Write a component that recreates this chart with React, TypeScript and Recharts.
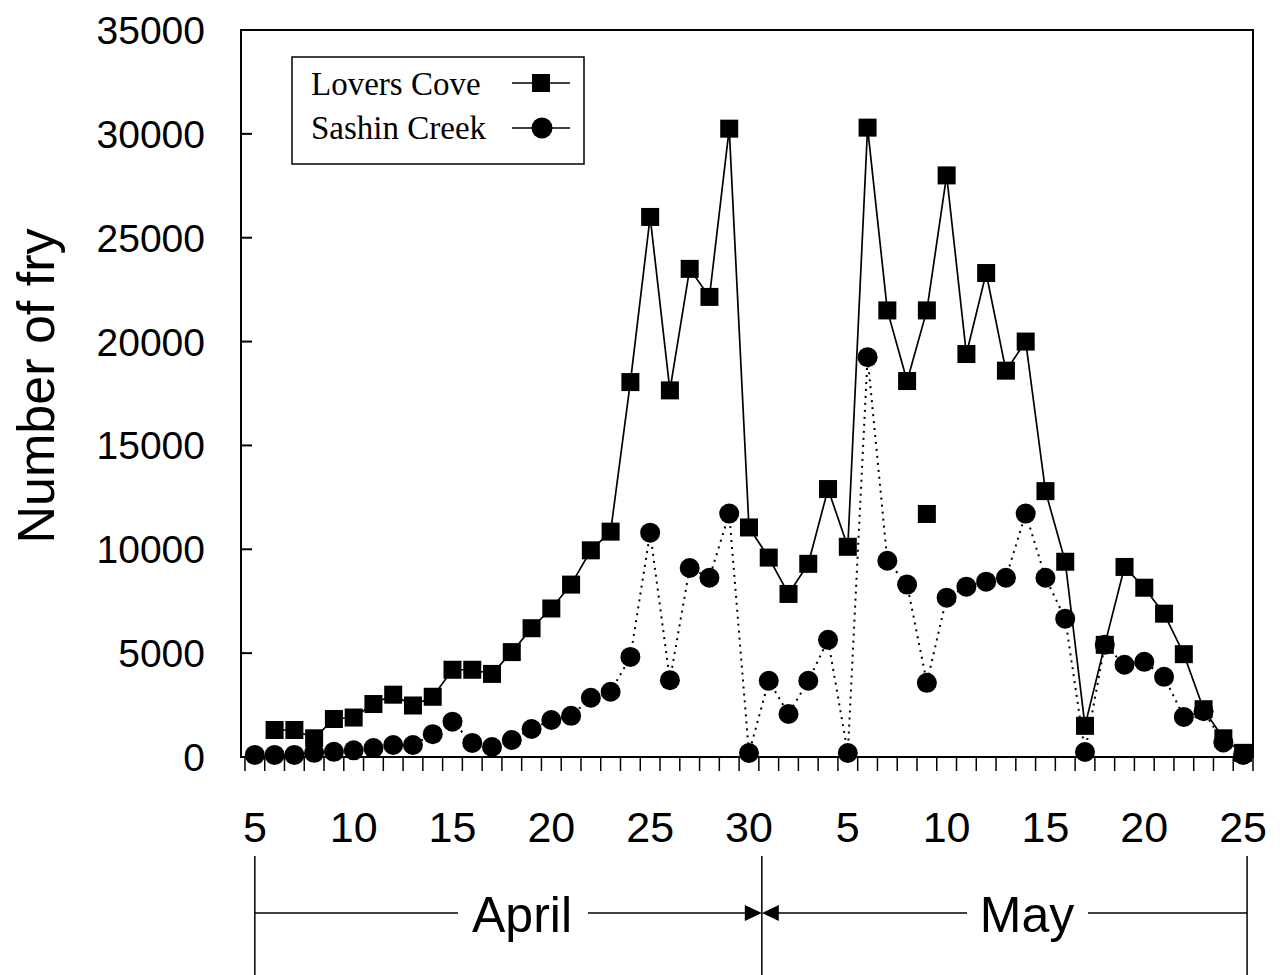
import { Line, LineChart, ReferenceArea, XAxis, YAxis } from 'recharts'

// one entry per day, 5 April .. 25 May
const dates = [
  'Apr 5', 'Apr 6', 'Apr 7', 'Apr 8', 'Apr 9', 'Apr 10', 'Apr 11', 'Apr 12', 'Apr 13', 'Apr 14',
  'Apr 15', 'Apr 16', 'Apr 17', 'Apr 18', 'Apr 19', 'Apr 20', 'Apr 21', 'Apr 22', 'Apr 23', 'Apr 24',
  'Apr 25', 'Apr 26', 'Apr 27', 'Apr 28', 'Apr 29', 'Apr 30',
  'May 1', 'May 2', 'May 3', 'May 4', 'May 5', 'May 6', 'May 7', 'May 8', 'May 9', 'May 10',
  'May 11', 'May 12', 'May 13', 'May 14', 'May 15', 'May 16', 'May 17', 'May 18', 'May 19', 'May 20',
  'May 21', 'May 22', 'May 23', 'May 24', 'May 25',
]

const loversCove = [
  null, 1300, 1300, 900, 1830, 1900, 2550, 3000, 2480, 2900,
  4200, 4200, 4000, 5050, 6200, 7150, 8300, 9950, 10850, 18050,
  26000, 17650, 23500, 22150, 30250, 11050,
  9600, 7850, 9300, 12900, 10120, 30300, 21500, 18100, 21500, 28000,
  19400, 23300, 18600, 20000, 12800, 9400, 1500, 5400, 9150, 8150,
  6900, 4950, 2300, 900, 200,
]

const sashinCreek = [
  100, 100, 100, 200, 250, 320, 430, 580, 580, 1100,
  1700, 680, 480, 820, 1350, 1780, 1980, 2850, 3140, 4820,
  10800, 3700, 9100, 8630, 11720, 190,
  3670, 2070, 3670, 5640, 190, 19250, 9450, 8300, 3570, 7670,
  8200, 8440, 8630, 11720, 8630, 6660, 240, 5400, 4440, 4580,
  3860, 1930, 2200, 700, 100,
]

// a Lovers Cove point drawn on its own, off the line
const loversCoveUnlinked = [{ date: 'May 9', value: 11700 }]

const xTickLabels = ['5', '10', '15', '20', '25', '30', '5', '10', '15', '20', '25']
const yTicks = [0, 5000, 10000, 15000, 20000, 25000, 30000, 35000]

const data = dates.map((date, i) => ({
  i,
  date,
  lovers: loversCove[i],
  sashin: sashinCreek[i],
  extra: loversCoveUnlinked.find((p) => p.date === date)?.value ?? null,
}))

const W = 1284
const H = 975
const PLOT_LEFT = 241
const PLOT_RIGHT = 1253
const PLOT_TOP = 30
const PLOT_BOTTOM = 757
const X_MIN = -0.7
const X_MAX = 50.5
const DAY_PX = (PLOT_RIGHT - PLOT_LEFT) / (X_MAX - X_MIN)
const xPx = (d: number) => PLOT_LEFT + (d - X_MIN) * DAY_PX

// tick marks sit between days
const dayEdges = Array.from({ length: dates.length + 1 }, (_, k) => k - 0.5)

const SANS = '"Liberation Sans", Arial, sans-serif'
const SERIF = '"Liberation Serif", "Times New Roman", serif'

function SquareDot(props: any) {
  const { cx, cy, value, index } = props
  if (cx == null || cy == null || value == null) return <g key={index} />
  return <rect key={index} x={cx - 9} y={cy - 9} width={18} height={18} fill="#000" />
}

function CircleDot(props: any) {
  const { cx, cy, value, index } = props
  if (cx == null || cy == null || value == null) return <g key={index} />
  return <circle key={index} cx={cx} cy={cy} r={10} fill="#000" />
}

function XTick({ x, y, payload }: any) {
  const d = payload.value + 0.5
  const label = d >= 0 && d % 5 === 0 ? xTickLabels[d / 5] : null
  return (
    <g>
      <line x1={x} y1={y} x2={x} y2={y + 14} stroke="#000" strokeWidth={1.5} />
      {label && d < dates.length && (
        <text x={x + DAY_PX / 2} y={y + 85} textAnchor="middle" fontFamily={SANS} fontSize={43} fill="#000">
          {label}
        </text>
      )}
    </g>
  )
}

function YTick({ x, y, payload }: any) {
  return (
    <g>
      <line x1={x + 36} y1={y} x2={x + 47} y2={y} stroke="#000" strokeWidth={2} />
      <text x={x} y={y + 14} textAnchor="end" fontFamily={SANS} fontSize={39} fill="#000">
        {payload.value}
      </text>
    </g>
  )
}

export default function App() {
  const divider = xPx(25.65)
  const arrowY = 913
  return (
    <div style={{ position: 'absolute', left: 0, top: 0, width: W, height: H, background: '#fff' }}>
      <LineChart
        width={W}
        height={H}
        data={data}
        margin={{ top: PLOT_TOP, right: W - PLOT_RIGHT, bottom: H - PLOT_BOTTOM - 60, left: PLOT_LEFT - 200 }}
      >
        <XAxis
          dataKey="i"
          type="number"
          domain={[X_MIN, X_MAX]}
          ticks={dayEdges}
          interval={0}
          height={60}
          tickSize={0}
          tickMargin={0}
          tick={<XTick />}
          axisLine={{ stroke: '#000', strokeWidth: 2 }}
        />
        <YAxis
          type="number"
          domain={[0, 35000]}
          ticks={yTicks}
          interval={0}
          width={200}
          tickSize={0}
          tickMargin={36}
          tick={<YTick />}
          axisLine={{ stroke: '#000', strokeWidth: 2 }}
        />
        <ReferenceArea x1={X_MIN} x2={X_MAX} y1={0} y2={35000} fill="none" stroke="#000" strokeWidth={2} />
        <Line
          dataKey="sashin"
          stroke="#000"
          strokeWidth={2}
          strokeDasharray="2 5"
          dot={CircleDot}
          isAnimationActive={false}
        />
        <Line dataKey="lovers" stroke="#000" strokeWidth={1.7} dot={SquareDot} isAnimationActive={false} />
        <Line dataKey="extra" stroke="none" dot={SquareDot} legendType="none" isAnimationActive={false} />
      </LineChart>

      <svg width={W} height={H} style={{ position: 'absolute', left: 0, top: 0, pointerEvents: 'none' }}>
        <text
          transform="translate(54, 386) rotate(-90)"
          textAnchor="middle"
          fontFamily={SANS}
          fontSize={52}
          fill="#000"
        >
          Number of fry
        </text>

        {/* legend */}
        <rect x={292} y={57} width={292} height={107} fill="#fff" stroke="#000" strokeWidth={1.5} />
        <text x={311} y={95} fontFamily={SERIF} fontSize={33} fill="#000">Lovers Cove</text>
        <line x1={512} y1={83} x2={570} y2={83} stroke="#000" strokeWidth={1.5} />
        <rect x={532} y={74} width={18} height={18} fill="#000" />
        <text x={311} y={139} fontFamily={SERIF} fontSize={33} fill="#000">Sashin Creek</text>
        <line x1={512} y1={128} x2={570} y2={128} stroke="#000" strokeWidth={1.5} />
        <circle cx={542} cy={128} r={10.5} fill="#000" />

        {/* month brackets */}
        {[xPx(0), divider, xPx(50.2)].map((x, k) => (
          <line key={k} x1={x} y1={856} x2={x} y2={H} stroke="#000" strokeWidth={1.5} />
        ))}
        <line x1={xPx(0)} y1={arrowY} x2={458} y2={arrowY} stroke="#000" strokeWidth={1.5} />
        <text x={522} y={932} textAnchor="middle" fontFamily={SANS} fontSize={50} fill="#000">April</text>
        <line x1={588} y1={arrowY} x2={divider - 10} y2={arrowY} stroke="#000" strokeWidth={1.5} />
        <polygon points={`${divider - 17},${arrowY - 8} ${divider},${arrowY} ${divider - 17},${arrowY + 8}`} fill="#000" />
        <polygon points={`${divider + 17},${arrowY - 8} ${divider},${arrowY} ${divider + 17},${arrowY + 8}`} fill="#000" />
        <line x1={divider + 10} y1={arrowY} x2={967} y2={arrowY} stroke="#000" strokeWidth={1.5} />
        <text x={1027} y={932} textAnchor="middle" fontFamily={SANS} fontSize={50} fill="#000">May</text>
        <line x1={1088} y1={arrowY} x2={xPx(50.2)} y2={arrowY} stroke="#000" strokeWidth={1.5} />
      </svg>
    </div>
  )
}
